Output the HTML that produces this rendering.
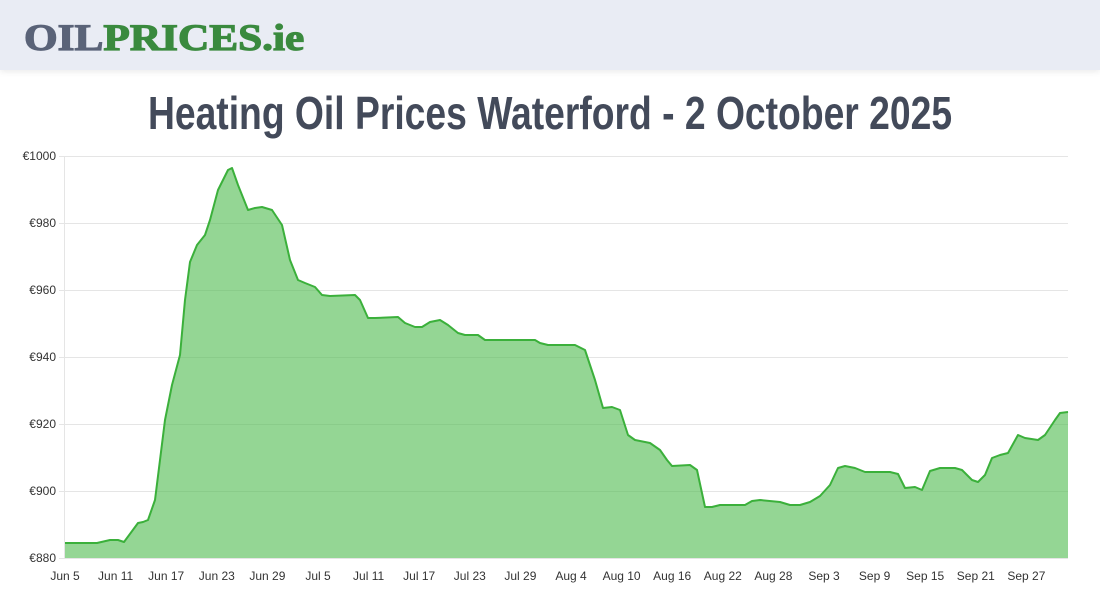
<!DOCTYPE html>
<html><head><meta charset="utf-8"><style>
body{margin:0;width:1100px;height:600px;background:#fff;font-family:"Liberation Sans",sans-serif;overflow:hidden;position:relative}
.hdr{position:absolute;left:0;top:0;width:1100px;height:70px;background:#e9ecf4;box-shadow:0 2px 6px rgba(0,0,0,.08)}
.logo{position:absolute;left:24px;top:17px;font-family:"Liberation Serif",serif;font-weight:bold;font-size:37px;letter-spacing:0px;transform:scaleX(1.17);transform-origin:left;-webkit-text-stroke:1.2px currentColor}
h1{position:absolute;left:0;top:86px;width:1100px;margin:0;text-align:center;font-family:"Liberation Sans",sans-serif;font-weight:bold;font-size:46px;color:#434a5a;transform:scaleX(0.81);transform-origin:center}
</style></head><body>
<div class="hdr"><div class="logo"><span style="color:#5a6378">OIL</span><span style="color:#3a8a3e">PRICES.ie</span></div></div>
<h1>Heating Oil Prices Waterford - 2 October 2025</h1>
<svg width="1100" height="600" style="position:absolute;left:0;top:0" font-family="Liberation Sans, sans-serif" font-size="12" fill="#333">
<g stroke="#e5e5e5" stroke-width="1">
<line x1="59" y1="156.5" x2="1068" y2="156.5"/><line x1="59" y1="223.5" x2="1068" y2="223.5"/><line x1="59" y1="290.5" x2="1068" y2="290.5"/><line x1="59" y1="357.5" x2="1068" y2="357.5"/><line x1="59" y1="424.5" x2="1068" y2="424.5"/><line x1="59" y1="491.5" x2="1068" y2="491.5"/><line x1="59" y1="558.5" x2="1068" y2="558.5"/>
<line x1="64.5" y1="156" x2="64.5" y2="558"/>
</g>
<g text-anchor="end"><text x="56" y="160">€1000</text><text x="56" y="227">€980</text><text x="56" y="294">€960</text><text x="56" y="361">€940</text><text x="56" y="428">€920</text><text x="56" y="495">€900</text><text x="56" y="562">€880</text></g>
<g text-anchor="middle"><text x="65" y="580">Jun 5</text><text x="115.6" y="580">Jun 11</text><text x="166.2" y="580">Jun 17</text><text x="216.8" y="580">Jun 23</text><text x="267.4" y="580">Jun 29</text><text x="318" y="580">Jul 5</text><text x="368.6" y="580">Jul 11</text><text x="419.2" y="580">Jul 17</text><text x="469.8" y="580">Jul 23</text><text x="520.4" y="580">Jul 29</text><text x="571" y="580">Aug 4</text><text x="621.6" y="580">Aug 10</text><text x="672.2" y="580">Aug 16</text><text x="722.8" y="580">Aug 22</text><text x="773.4" y="580">Aug 28</text><text x="824" y="580">Sep 3</text><text x="874.6" y="580">Sep 9</text><text x="925.2" y="580">Sep 15</text><text x="975.8" y="580">Sep 21</text><text x="1026.4" y="580">Sep 27</text></g>
<polygon fill="rgba(76,186,76,0.6)" points="65,558 65,543 97,543 110,540 118,540 124,542 138,523 143,522 148,520 155,500 160,460 165,420 172,385 180,355 185,300 190,262 197,245 205,235 210,220 218,190 228,170 232,168 238,185 248,210 255,208 262,207 272,210 282,225 290,260 298,280 305,283 315,287 322,295 330,296 355,295 360,300 368,318 375,318 398,317 405,323 415,327 422,327 430,322 440,320 448,325 458,333 465,335 478,335 485,340 500,340 535,340 540,343 548,345 575,345 585,350 595,380 603,408 612,407 620,410 628,435 635,440 650,443 660,450 667,460 672,466 690,465 697,470 705,507 712,507 720,505 745,505 752,501 760,500 780,502 790,505 800,505 810,502 820,496 830,485 838,468 845,466 855,468 865,472 890,472 898,474 905,488 915,487 922,490 930,471 940,468 955,468 962,470 972,480 978,482 985,475 992,458 1000,455 1008,453 1018,435 1025,438 1038,440 1045,435 1055,420 1060,413 1068,412 1068,558"/>
<polyline fill="none" stroke="#3bb03b" stroke-width="2" stroke-linejoin="round" points="65,543 97,543 110,540 118,540 124,542 138,523 143,522 148,520 155,500 160,460 165,420 172,385 180,355 185,300 190,262 197,245 205,235 210,220 218,190 228,170 232,168 238,185 248,210 255,208 262,207 272,210 282,225 290,260 298,280 305,283 315,287 322,295 330,296 355,295 360,300 368,318 375,318 398,317 405,323 415,327 422,327 430,322 440,320 448,325 458,333 465,335 478,335 485,340 500,340 535,340 540,343 548,345 575,345 585,350 595,380 603,408 612,407 620,410 628,435 635,440 650,443 660,450 667,460 672,466 690,465 697,470 705,507 712,507 720,505 745,505 752,501 760,500 780,502 790,505 800,505 810,502 820,496 830,485 838,468 845,466 855,468 865,472 890,472 898,474 905,488 915,487 922,490 930,471 940,468 955,468 962,470 972,480 978,482 985,475 992,458 1000,455 1008,453 1018,435 1025,438 1038,440 1045,435 1055,420 1060,413 1068,412"/>
</svg>
</body></html>
